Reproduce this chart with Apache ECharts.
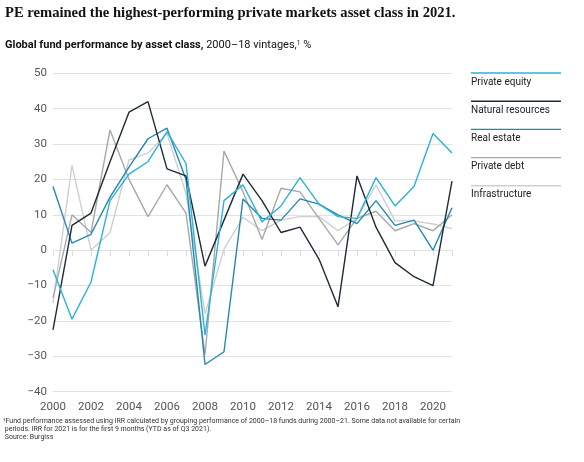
<!DOCTYPE html>
<html><head><meta charset="utf-8">
<script src="https://cdn.jsdelivr.net/npm/echarts@6/dist/echarts.min.js"></script>
<style>html,body{margin:0;padding:0;background:#fff}#c{width:584px;height:462px}</style>
</head><body><div id="c"></div>
<script>
const years = [2000,2001,2002,2003,2004,2005,2006,2007,2008,2009,2010,2011,2012,2013,2014,2015,2016,2017,2018,2019,2020,2021];
const seriesNames = ['Private equity','Natural resources','Real estate','Private debt','Infrastructure'];
const privateEquity    = [-5.5,-19.5,-9,14,21.5,25,33.5,24.5,-24,14,18.5,8,12.5,20.5,13,9.5,9,20.5,12.5,18,33,27.5];
const naturalResources = [-22.5,7,10.5,25,39,42,23,21,-4.5,8.5,21.5,14,5,6.5,-2.5,-16,21,6.5,-3.5,-7.5,-10,19.5];
const realEstate       = [18,2,4.5,15,23.5,31.5,34.5,20,-32.3,-28.7,14.5,9,8.5,14.5,13,10,7.5,14,7,8.5,0,12];
const privateDebt      = [-13.5,10,5,34,20,9.5,18.5,10.5,-29.5,28,16.5,3,17.5,16.5,9,1.5,9,11,5.5,7.5,5.5,10];
const infrastructure   = [-15,24,0,5,25.5,27.5,33,16,-18,0.3,9.3,5.5,8.5,9.5,9.5,5.5,9,18.5,8.3,8.3,7.4,6.1];
const yTicks = [-40,-30,-20,-10,0,10,20,30,40,50];

const colors = ['#2bb2d8','#1d2a38','#2389b0','#a8a8a8','#cfcfcf'];
const dataSets = [privateEquity,naturalResources,realEstate,privateDebt,infrastructure];
const zOrder = [5,4,3,2,1];

const chart = echarts.init(document.getElementById('c'), null, {renderer:'canvas'});
const font = 'Roboto, "Liberation Sans", Arial, sans-serif';

const series = dataSets.map((d,i)=>({
  name: seriesNames[i], type:'line', symbol:'none', z: zOrder[i],
  data: d.map((v,j)=>[years[j],v]),
  lineStyle:{color:colors[i], width:1.4},
  itemStyle:{color:colors[i]},
  emphasis:{disabled:true}, silent:true
}));

const legendGraphics = [];
seriesNames.forEach((n,i)=>{
  const y = 73 + i*28.2;
  legendGraphics.push({type:'line', shape:{x1:471,y1:y,x2:561,y2:y}, style:{stroke:colors[i], lineWidth:1.4}});
  legendGraphics.push({type:'text', left:471, top:y+4, style:{text:n, fill:'#222', font:'10px '+font}});
});

const splitColors = yTicks.map(v=> v===0 ? '#a0a0a0' : '#e2e2e2');

chart.setOption({
  animation:false,
  backgroundColor:'#fff',
  grid:{left:53, right:132, top:73.3, bottom:70.3, containLabel:false},
  xAxis:{type:'value', min:2000, max:2021, interval:1,
    axisLine:{show:true, lineStyle:{color:'#e2e2e2', width:1}},
    axisTick:{show:true, length:6, lineStyle:{color:'#dcdcdc'}},
    splitLine:{show:false},
    axisLabel:{color:'#555', fontSize:11.5, fontFamily:font, margin:9,
      formatter:v=> (v%2===0 && v<2021) ? String(v) : ''}
  },
  yAxis:{type:'value', min:-40, max:50, interval:10,
    axisLine:{show:false}, axisTick:{show:false},
    splitLine:{show:true, lineStyle:{color:splitColors, width:1}},
    axisLabel:{color:'#555', fontSize:11.5, fontFamily:font, margin:6,
      formatter:v=> v<0 ? '\u2212'+Math.abs(v) : String(v)}
  },
  series: series,
  graphic: [
    {type:'text', left:5, top:6, style:{text:'PE remained the highest-performing private markets asset class in 2021.', fill:'#111', font:'bold 14.6px "Liberation Serif", "DejaVu Serif", serif'}},
    {type:'text', left:5, top:40, style:{
      rich:{b:{fontWeight:'bold', fontSize:11, fontFamily:font, fill:'#111'}, r:{fontSize:11, fontFamily:font, fill:'#111'}, s:{fontSize:6.5, fontFamily:font, fill:'#111', verticalAlign:'top'}},
      text:'{b|Global fund performance by asset class,}{r| 2000\u201318 vintages,}{s|1}{r| %}'}},
    ...legendGraphics,
    {type:'text', left:3, top:417, style:{text:'\u00b9Fund performance assessed using IRR calculated by grouping performance of 2000\u201318 funds during 2000\u201321. Some data not available for certain\n periods. IRR for 2021 is for the first 9 months (YTD as of Q3 2021).\n Source: Burgiss', fill:'#333', font:'7px '+font, lineHeight:8}}
  ]
});
</script></body></html>
